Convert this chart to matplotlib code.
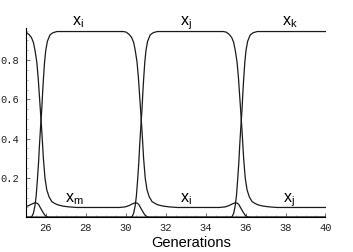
import matplotlib
matplotlib.use("Agg")
import matplotlib.pyplot as plt
import numpy as np

# ---- data ----
# transition (crossing) times in generations
TRANSITIONS = [25.75, 30.77, 35.78]
HIGH = 0.945
LOW = 0.05

# shape of a rising curve around a transition (time offset, value)
RISE_DT = [-0.75, -0.55, -0.46, -0.38, -0.30, -0.24, -0.18, -0.12, -0.08, -0.02,
           0.04, 0.08, 0.12, 0.18, 0.24, 0.32, 0.45, 0.60, 0.80]
RISE_Y = [0.0, 0.0, 0.003, 0.02, 0.06, 0.11, 0.19, 0.28, 0.36, 0.46,
          0.55, 0.63, 0.70, 0.79, 0.85, 0.895, 0.928, 0.939, 0.945]

# shape of a falling curve around a transition
FALL_DT = [-0.90, -0.75, -0.60, -0.48, -0.38, -0.30, -0.21, -0.14, -0.08, -0.02,
           0.04, 0.08, 0.12, 0.20, 0.29, 0.40, 0.54, 0.70, 0.85, 1.10, 1.40, 1.80]
FALL_Y = [0.945, 0.942, 0.93, 0.915, 0.89, 0.85, 0.79, 0.71, 0.62, 0.53,
          0.44, 0.37, 0.30, 0.20, 0.14, 0.105, 0.08, 0.07, 0.063, 0.057, 0.053, 0.05]

# small bump of the low species before it dies out
BUMP_DT = [-1.10, -0.80, -0.60, -0.45, -0.30, -0.20, -0.12, -0.05, 0.04, 0.12,
           0.20, 0.29, 0.40]
BUMP_Y = [0.05, 0.053, 0.06, 0.068, 0.074, 0.072, 0.065, 0.052, 0.036, 0.022,
          0.01, 0.003, 0.0]

# life of each species: list of (segment, transition index)
SPECIES = {
    "prev": [("bump", 0)],
    "m": [("fall", 0), ("bump", 1)],
    "i": [("rise", 0), ("fall", 1), ("bump", 2)],
    "j": [("rise", 1), ("fall", 2)],
    "k": [("rise", 2)],
}
START_LEVEL = {"prev": LOW, "m": HIGH, "i": 0.0, "j": 0.0, "k": 0.0}

LABELS = [  # text, x, y
    (r"$\mathrm{x}_\mathrm{i}$", 27.6, 0.975),
    (r"$\mathrm{x}_\mathrm{j}$", 33.0, 0.975),
    (r"$\mathrm{x}_\mathrm{k}$", 38.2, 0.975),
    (r"$\mathrm{x}_\mathrm{m}$", 27.4, 0.078),
    (r"$\mathrm{x}_\mathrm{i}$", 33.0, 0.078),
    (r"$\mathrm{x}_\mathrm{j}$", 38.15, 0.078),
]
XTICKS = [26, 28, 30, 32, 34, 36, 38, 40]
YTICKS = [0.2, 0.4, 0.6, 0.8]

SEGS = {"rise": (RISE_DT, RISE_Y), "fall": (FALL_DT, FALL_Y), "bump": (BUMP_DT, BUMP_Y)}

plt.rcParams["mathtext.fontset"] = "custom"
plt.rcParams["mathtext.rm"] = "Liberation Sans"
plt.rcParams["mathtext.it"] = "Liberation Sans"

fig = plt.figure(figsize=(3.53, 2.52), dpi=100)
W, H = 353, 252
x0, x1 = 26, 325.5
y0, y1 = 217.3, 28
ax = fig.add_axes([x0 / W, 1 - y0 / H, (x1 - x0) / W, (y0 - y1) / H])
ax.set_xlim(25, 40)
ax.set_ylim(0, 0.963)

for name, segs in SPECIES.items():
    ts = [24.0]
    vs = [START_LEVEL[name]]
    for kind, idx in segs:
        dts, ys = SEGS[kind]
        T = TRANSITIONS[idx]
        ts += [T + d for d in dts]
        vs += list(ys)
    ts.append(41.0)
    vs.append(vs[-1])
    ax.plot(ts, vs, color="#1a1a1a", lw=0.9, solid_joinstyle="round")

for txt, x, y in LABELS:
    ax.text(x, y, txt, ha="center", va="baseline", fontsize=11.5, color="black",
            clip_on=False)

for s in ["top", "right"]:
    ax.spines[s].set_visible(False)
for s in ["left", "bottom"]:
    ax.spines[s].set_linewidth(0.8)
    ax.spines[s].set_color("black")

ax.set_xticks(XTICKS)
ax.set_xticklabels([str(v) for v in XTICKS], family="Liberation Mono", fontsize=7.5,
                   color="#222222")
ax.set_yticks(YTICKS)
ax.set_yticklabels([f"{v:.1f}" for v in YTICKS], family="Liberation Mono", fontsize=7.5,
                   color="#222222")
ax.set_xticks(np.arange(25, 40.01, 0.5), minor=True)
ax.set_yticks(np.arange(0.05, 0.96, 0.05), minor=True)
ax.tick_params(which="major", direction="in", length=3, width=0.6, color="#555555", pad=4)
ax.tick_params(which="minor", direction="in", length=1.5, width=0.5, color="#999999")
ax.tick_params(axis="y", which="major", pad=5)

ax.set_xlabel("Generations", family="Liberation Sans", fontsize=10.5)
ax.xaxis.set_label_coords((191 - x0) / (x1 - x0), -(243 - y0) / (y0 - y1))
ax.xaxis.label.set_va("center")

fig.savefig("out.png", dpi=100)
